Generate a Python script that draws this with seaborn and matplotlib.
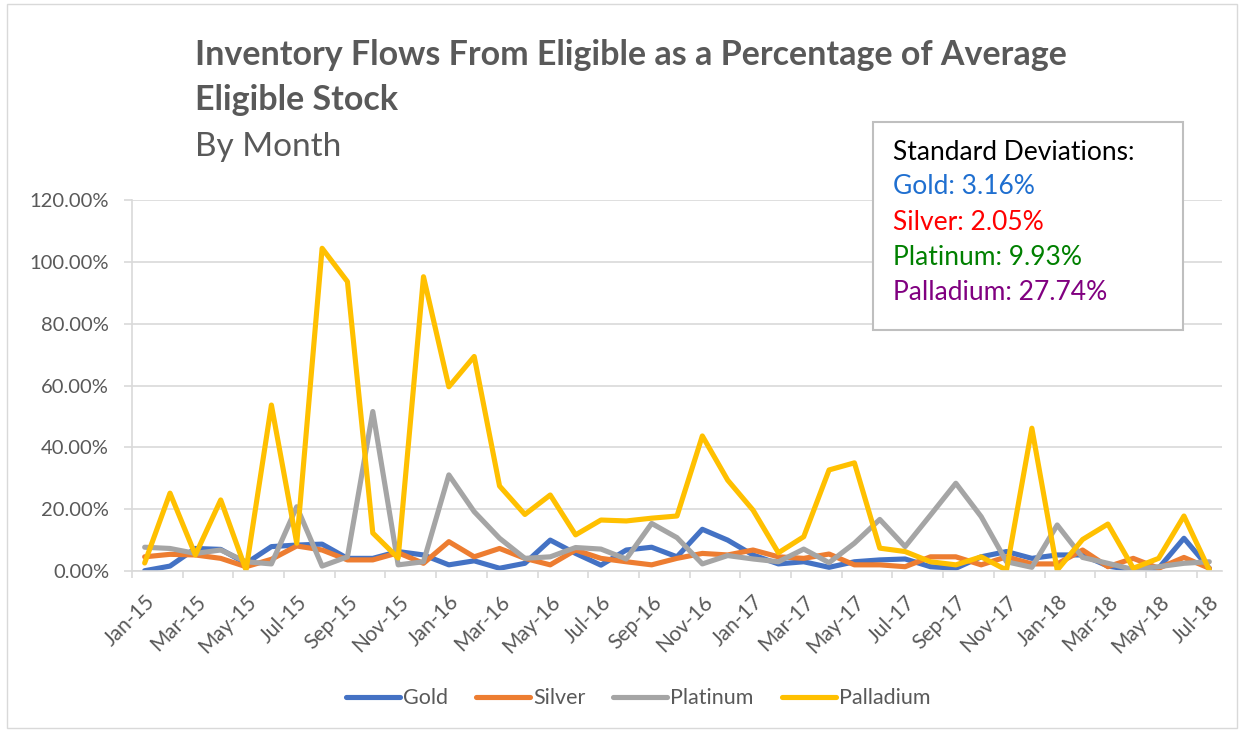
import pandas as pd
import seaborn as sns
import matplotlib.pyplot as plt
from matplotlib.ticker import PercentFormatter
from matplotlib.patches import Rectangle

# monthly categories Jan-15 .. Jul-18
months = pd.date_range('2015-01-01', periods=43, freq='MS').strftime('%b-%y').tolist()

gold = [0.1, 1.6, 7.3, 7.0, 2.5, 7.9, 8.4, 8.7, 4.1, 4.1, 6.3, 5.2, 2.0, 3.3,
        0.9, 2.5, 10.0, 5.7, 1.9, 6.8, 7.7, 4.6, 13.5, 10.0, 5.2, 2.3, 3.0, 1.2,
        3.0, 3.6, 3.9, 1.4, 0.9, 4.6, 6.3, 4.1, 5.2, 5.2, 1.6, 0.3, 0.9, 10.6, 0.9]
silver = [4.6, 5.4, 5.2, 4.1, 1.4, 3.8, 8.1, 6.8, 3.6, 3.6, 5.9, 2.5, 9.5, 4.6,
          7.3, 4.1, 2.0, 6.8, 4.1, 3.0, 2.0, 4.1, 5.7, 5.2, 6.8, 4.6, 4.1, 5.5,
          2.0, 2.0, 1.4, 4.6, 4.6, 2.0, 4.6, 2.3, 2.3, 6.8, 1.4, 4.1, 0.9, 4.4, 0.9]
platinum = [7.7, 7.3, 5.7, 6.8, 3.0, 2.3, 20.8, 1.6, 4.6, 51.6, 2.0, 3.0, 31.1, 19.2,
            10.6, 4.1, 4.6, 7.6, 7.1, 3.9, 15.4, 10.8, 2.3, 5.0, 3.9, 3.0, 7.1, 2.7,
            9.0, 16.7, 7.9, 18.1, 28.4, 17.6, 3.0, 1.2, 14.9, 4.4, 2.5, 0.5, 1.4, 2.5, 3.0]
palladium = [2.6, 25.2, 5.2, 23.0, 0.3, 53.7, 9.0, 104.4, 93.6, 12.3, 4.2, 95.2, 59.6, 69.4,
             27.5, 18.3, 24.6, 11.7, 16.5, 16.2, 17.1, 17.8, 43.7, 29.4, 19.7, 5.9, 11.1, 32.7,
             35.0, 7.4, 6.3, 3.0, 2.0, 4.6, 0.3, 46.2, 0.3, 10.2, 15.2, 0.9, 4.1, 17.8, 0.3]

metals = ['Gold', 'Silver', 'Platinum', 'Palladium']
colors = ['#4472C4', '#ED7D31', '#A5A5A5', '#FFC000']
std_labels = ['Gold: 3.16%', 'Silver: 2.05%', 'Platinum: 9.93%', 'Palladium: 27.74%']
std_colors = ['#1F6FD0', '#FF0000', '#008000', '#800080']

frames = []
for name, vals in zip(metals, [gold, silver, platinum, palladium]):
    frames.append(pd.DataFrame({'idx': range(len(months)), 'value': vals, 'metal': name}))
df = pd.concat(frames, ignore_index=True)

sns.set_theme(style='white')
plt.rcParams['font.family'] = ['Lato', 'DejaVu Sans']

fig = plt.figure(figsize=(12.44, 7.32), dpi=100)
ax = fig.add_axes([0.1061, 0.2199, 0.8762, 0.5068])

sns.lineplot(data=df, x='idx', y='value', hue='metal', palette=dict(zip(metals, colors)),
             linewidth=3.7, ax=ax, sort=False)

ax.set_xlim(-0.5, len(months) - 0.5)
ax.set_ylim(0, 120)
ax.set_yticks(range(0, 121, 20))
ax.yaxis.set_major_formatter(PercentFormatter(decimals=2))
ax.grid(axis='y', color='#D9D9D9', linewidth=1.2)
ax.set_axisbelow(True)

ax.set_xticks(range(0, len(months), 2))
ax.set_xticklabels(months[::2], rotation=45, ha='right', rotation_mode='anchor')
ax.set_xticks([i - 0.5 for i in range(0, len(months) + 1, 2)], minor=True)
ax.tick_params(axis='x', which='major', length=0, pad=15, labelsize=15, labelcolor='#595959')
ax.tick_params(axis='x', which='minor', length=5, color='#D9D9D9', width=1.2, direction='out', bottom=True)
ax.tick_params(axis='y', length=5.5, pad=11, color='#D9D9D9', width=1.2, labelsize=14.5,
               labelcolor='#595959', left=True)
ax.set_xlabel('')
ax.set_ylabel('')

for side in ['top', 'right']:
    ax.spines[side].set_visible(False)
ax.spines['left'].set_color('#D9D9D9')
ax.spines['left'].set_linewidth(1.2)
ax.spines['bottom'].set_color('#D9D9D9')
ax.spines['bottom'].set_linewidth(1.2)

handles, labels = ax.get_legend_handles_labels()
ax.legend_.remove()
fig.legend(handles, labels, loc='center', bbox_to_anchor=(0.513, 0.046), ncol=4, frameon=False,
           fontsize=15.5, labelcolor='#595959', handlelength=2.5, handletextpad=0.15, columnspacing=1.3)

fig.text(0.157, 0.925, 'Inventory Flows From Eligible as a Percentage of Average',
         fontsize=24.5, fontweight='bold', color='#595959', va='center')
fig.text(0.157, 0.863, 'Eligible Stock', fontsize=24.5, fontweight='bold', color='#595959', va='center')
fig.text(0.157, 0.799, 'By Month', fontsize=24, color='#595959', va='center')

# standard deviation box
fig.patches.append(Rectangle((873 / 1244, 1 - 330 / 732), 310 / 1244, 208 / 732,
                             transform=fig.transFigure, facecolor='white', edgecolor='#BFBFBF',
                             linewidth=1.5, zorder=5))
fig.text(893 / 1244, 1 - 152 / 732, 'Standard Deviations:', fontsize=19, color='black',
         va='center', zorder=6)
for k, (lab, col) in enumerate(zip(std_labels, std_colors)):
    fig.text(893 / 1244, 1 - (187 + 35.3 * k) / 732, lab, fontsize=19, color=col,
             va='center', zorder=6)

# chart border
fig.patches.append(Rectangle((7 / 1244, 4 / 732), 1230 / 1244, 724 / 732, transform=fig.transFigure,
                             facecolor='none', edgecolor='#D9D9D9', linewidth=1))

fig.savefig('out.png', dpi=100)
